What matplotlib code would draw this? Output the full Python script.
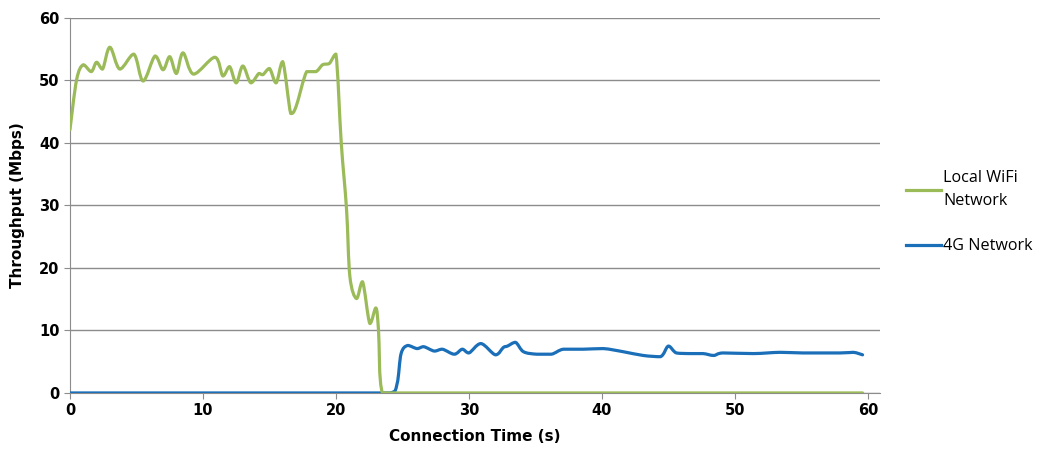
import matplotlib

matplotlib.use("Agg")
import matplotlib.pyplot as plt
import numpy as np
from matplotlib.lines import Line2D
from matplotlib.patches import PathPatch
from matplotlib.path import Path

# Local WiFi network throughput (Mbps) vs connection time (s)
wifi_t = [0.0, 0.5, 1.0, 1.6, 2.0, 2.45, 3.0, 3.75, 4.8, 5.5, 6.4, 7.0, 7.5, 8.0, 8.5,
          9.3, 10.9, 11.5, 12.0, 12.5, 13.0, 13.6, 14.2, 14.5, 15.0, 15.5, 16.0, 16.6,
          17.0, 17.8, 18.5, 19.0, 19.5, 20.0, 20.4, 20.8, 21.05, 21.55, 22.0, 22.55,
          23.0, 23.2, 23.5, 59.6]
wifi_v = [42.1, 50.1, 52.5, 51.4, 52.9, 51.8, 55.3, 51.8, 54.2, 49.9, 53.9, 51.7, 53.8,
          51.1, 54.4, 51.0, 53.7, 50.7, 52.2, 49.6, 52.3, 49.6, 51.1, 50.9, 51.9, 49.6,
          53.0, 44.7, 45.8, 51.4, 51.4, 52.5, 52.7, 54.2, 40.0, 29.3, 18.6, 15.1, 17.8,
          11.1, 13.6, 10.1, 0.0, 0.0]

# 4G network throughput (Mbps)
lte_t = [0.0, 24.06, 24.6, 24.9, 25.4, 26.1, 26.6, 27.4, 28.0, 28.9, 29.5, 30.0, 30.9,
         32.0, 32.6, 32.9, 33.5, 34.1, 35.1, 36.2, 37.1, 38.6, 40.1, 41.6, 43.1, 44.4,
         45.0, 45.6, 46.6, 47.6, 48.4, 49.1, 51.4, 53.4, 55.1, 57.9, 58.9, 59.6]
lte_v = [0.0, 0.0, 1.5, 6.3, 7.6, 7.1, 7.4, 6.7, 7.0, 6.2, 7.0, 6.4, 7.9, 6.1, 7.3, 7.5,
         8.1, 6.6, 6.2, 6.2, 7.0, 7.0, 7.1, 6.6, 6.0, 5.8, 7.5, 6.4, 6.3, 6.3, 6.0, 6.4,
         6.3, 6.5, 6.4, 6.4, 6.5, 6.1]

x_ticks = [0, 10, 20, 30, 40, 50, 60]
y_ticks = [0, 10, 20, 30, 40, 50, 60]

GREEN = "#9BBB59"
BLUE = "#1A6FB8"
GRID = "#8C8C8C"


def smooth_path(xs, ys) -> Path:
    # Excel-style smoothed line: cubic bezier through the points, control points clamped
    pts = np.column_stack([xs, ys]).astype(float)
    n = len(pts)
    verts = [pts[0]]
    codes = [Path.MOVETO]
    for i in range(n - 1):
        p0 = pts[i - 1] if i > 0 else pts[i]
        p1, p2 = pts[i], pts[i + 1]
        p3 = pts[i + 2] if i + 2 < n else pts[i + 1]
        c1 = p1 + (p2 - p0) / 6.0
        c2 = p2 - (p3 - p1) / 6.0
        lo, hi = np.minimum(p1, p2), np.maximum(p1, p2)
        c1 = np.clip(c1, lo, hi)
        c2 = np.clip(c2, lo, hi)
        verts += [c1, c2, p2]
        codes += [Path.CURVE4] * 3
    return Path(verts, codes)


plt.rcParams["font.family"] = ["DejaVu Sans"]

fig = plt.figure(figsize=(10.41, 4.58), dpi=100)
ax = fig.add_axes([0.0672, 0.142, 0.778, 0.819])

for xs, ys, col in [(lte_t, lte_v, BLUE), (wifi_t, wifi_v, GREEN)]:
    ax.add_patch(PathPatch(smooth_path(xs, ys), facecolor="none", edgecolor=col,
                           linewidth=2.3, joinstyle="round", capstyle="round", zorder=3))

ax.set_xlim(0, 60.9)
ax.set_ylim(0, 60)
ax.set_xticks(x_ticks)
ax.set_yticks(y_ticks)
ax.yaxis.grid(True, color=GRID, linewidth=1.0)
ax.set_axisbelow(True)
for side in ("top", "right"):
    ax.spines[side].set_visible(False)
for side in ("left", "bottom"):
    ax.spines[side].set_color(GRID)
ax.tick_params(axis="both", colors=GRID, length=4, labelsize=10.5, labelcolor="black")
for lab in ax.get_xticklabels() + ax.get_yticklabels():
    lab.set_fontweight("bold")

ax.set_xlabel("Connection Time (s)", fontsize=11, fontweight="bold", labelpad=8)
ax.set_ylabel("Throughput (Mbps)", fontsize=11, fontweight="bold", labelpad=10)

handles = [Line2D([], [], color=GREEN, linewidth=2.3), Line2D([], [], color=BLUE, linewidth=2.3)]
labels = ["Local WiFi\nNetwork", "4G Network"]
leg = fig.legend(handles, labels, loc="center left",
                 bbox_to_anchor=(0.856, 0.537), frameon=False, handlelength=2.2,
                 handletextpad=0.15, labelspacing=1.8,
                 prop={"family": ["Open Sans", "DejaVu Sans"], "size": 11.6})
for txt in leg.get_texts():
    txt.set_linespacing(1.6)

fig.savefig("out.png", dpi=100)
